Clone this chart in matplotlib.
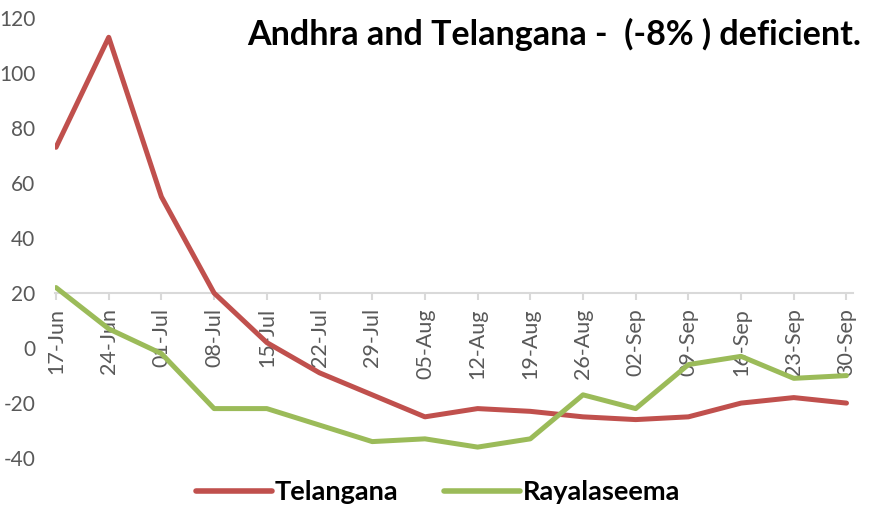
import matplotlib
matplotlib.use("Agg")
import matplotlib.pyplot as plt

dates = ["17-Jun", "24-Jun", "01-Jul", "08-Jul", "15-Jul", "22-Jul", "29-Jul", "05-Aug",
         "12-Aug", "19-Aug", "26-Aug", "02-Sep", "09-Sep", "16-Sep", "23-Sep", "30-Sep"]
telangana = [73, 113, 55, 20, 2, -9, -17, -25, -22, -23, -25, -26, -25, -20, -18, -20]
rayalaseema = [22, 7, -2, -22, -22, -28, -34, -33, -36, -33, -17, -22, -6, -3, -11, -10]
yticks = [-40, -20, 0, 20, 40, 60, 80, 100, 120]
title = "Andhra and Telangana -  (-8% ) deficient."

plt.rcParams['font.family'] = ['Lato', 'DejaVu Sans']

fig = plt.figure(figsize=(8.81, 5.09), dpi=100)
ax = fig.add_axes([0.0624, 0.100, 0.9056, 0.8646])

x = list(range(len(dates)))
ax.plot(x, telangana, color="#C0504D", lw=3.6, solid_capstyle="round", solid_joinstyle="round", label="Telangana")
ax.plot(x, rayalaseema, color="#9BBB59", lw=3.6, solid_capstyle="round", solid_joinstyle="round", label="Rayalaseema")

ax.set_ylim(-40, 120)
ax.set_xlim(-0.02, 15.12)
ax.set_yticks(yticks)
ax.set_yticklabels([str(v) for v in yticks])
ax.set_xticks(x)
ax.set_xticklabels(dates)

for s in ["top", "right", "left"]:
    ax.spines[s].set_visible(False)
ax.spines["bottom"].set_position(("data", 20))
ax.spines["bottom"].set_color("#D9D9D9")
ax.spines["bottom"].set_linewidth(1.5)
ax.spines["bottom"].set_zorder(0)

ax.tick_params(axis="y", length=0, pad=14, labelsize=15, labelcolor="#595959")
ax.tick_params(axis="x", length=5, width=1.5, color="#D9D9D9", direction="out", pad=6,
               labelsize=15.5, labelcolor="#595959", labelrotation=90)

fig.text(0.978, 0.932, title, ha="right", va="center", fontsize=24.5, fontweight="bold", color="black")

leg = fig.legend(loc="center", bbox_to_anchor=(0.497, 0.033), ncol=2, frameon=False,
                 prop={"weight": "bold", "size": 19.5}, handlelength=2.8, columnspacing=1.7,
                 handletextpad=0.1)
for h in leg.get_lines():
    h.set_linewidth(4)

fig.savefig("out.png", dpi=100)
